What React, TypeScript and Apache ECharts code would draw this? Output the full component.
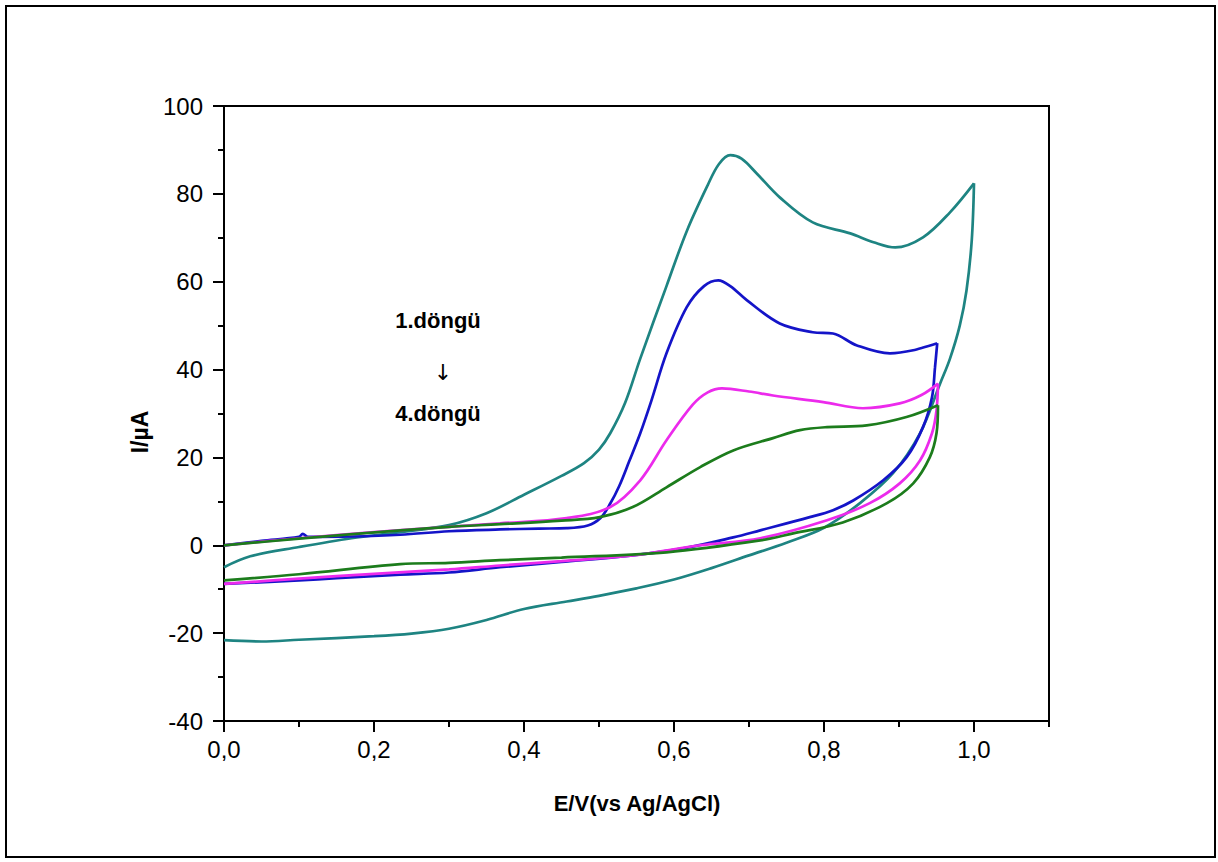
import React, { useEffect, useRef } from "react";
import * as echarts from "echarts";

// Potential (V) and current (µA)
const cycle1Forward: [number, number][] = [
  [0, -5.0], [0.035, -2.5], [0.1, -0.4], [0.17, 1.6], [0.235, 3.0], [0.3, 4.6],
  [0.35, 7.3], [0.4, 11.5], [0.45, 15.8], [0.48, 18.7], [0.5, 21.8], [0.515, 25.5],
  [0.535, 32.5], [0.555, 42.5], [0.59, 59], [0.617, 71.5], [0.645, 82], [0.66, 86.8],
  [0.675, 88.8], [0.69, 88], [0.71, 84.7], [0.741, 79.2], [0.785, 73.5], [0.835, 71.0],
  [0.866, 69.0], [0.895, 67.8], [0.932, 70.1], [0.968, 75.8], [1.0, 82.4],
];
const cycle1Reverse: [number, number][] = [
  [1.0, 82.4], [0.997, 69.4], [0.99, 58], [0.981, 50], [0.968, 42.5], [0.955, 36.9],
  [0.928, 25.5], [0.892, 16.4], [0.848, 9.6], [0.8, 4.0], [0.75, 0.6], [0.7, -2.3],
  [0.65, -5.2], [0.6, -7.8], [0.55, -9.8], [0.5, -11.5], [0.457, -12.8], [0.4, -14.5],
  [0.35, -17], [0.3, -19], [0.25, -20.1], [0.2, -20.7], [0.1, -21.5], [0.05, -21.9],
  [0.0, -21.6],
];
const cycle2Forward: [number, number][] = [
  [0, 0], [0.05, 1.0], [0.1, 1.9], [0.105, 2.6], [0.112, 1.9], [0.17, 2.0], [0.235, 2.4],
  [0.3, 3.2], [0.368, 3.6], [0.42, 3.8], [0.457, 3.9], [0.485, 4.5], [0.502, 6.2],
  [0.515, 9.5], [0.527, 13.5], [0.54, 19], [0.555, 25.5], [0.57, 33], [0.59, 43.7],
  [0.617, 54.2], [0.64, 59], [0.659, 60.3], [0.675, 59], [0.697, 55.8], [0.741, 50.5],
  [0.785, 48.5], [0.812, 48.2], [0.844, 45.5], [0.888, 43.7], [0.919, 44.4], [0.951, 46.0],
];
const cycle2Reverse: [number, number][] = [
  [0.951, 46.0], [0.948, 40.5], [0.944, 33.7], [0.932, 26.9], [0.91, 20], [0.879, 14.8],
  [0.839, 10.2], [0.812, 8.0], [0.781, 6.4], [0.715, 3.4], [0.679, 1.8], [0.612, -0.7],
  [0.545, -2.3], [0.45, -3.8], [0.368, -5.0], [0.3, -6.2], [0.235, -6.7], [0.15, -7.5],
  [0.1, -8.0], [0.0, -8.8],
];
const cycle3Forward: [number, number][] = [
  [0, 0], [0.1, 1.6], [0.2, 3.0], [0.3, 4.2], [0.368, 5.0], [0.457, 6.2], [0.515, 8.7],
  [0.555, 14.8], [0.59, 23.9], [0.625, 32.0], [0.645, 34.8], [0.664, 35.7], [0.7, 35.0],
  [0.732, 34.1], [0.799, 32.6], [0.852, 31.2], [0.901, 32.3], [0.93, 34.2], [0.952, 36.8],
];
const cycle3Reverse: [number, number][] = [
  [0.952, 36.8], [0.95, 30.7], [0.944, 25.5], [0.928, 19.3], [0.901, 14.1], [0.861, 9.6],
  [0.804, 5.7], [0.715, 1.6], [0.635, 0.0], [0.545, -2.3], [0.45, -3.6], [0.368, -4.6],
  [0.3, -5.5], [0.2, -6.5], [0.1, -7.6], [0.0, -8.8],
];
const cycle4Forward: [number, number][] = [
  [0, 0], [0.1, 1.5], [0.235, 3.4], [0.3, 4.2], [0.368, 4.8], [0.45, 5.6], [0.501, 6.4],
  [0.545, 8.7], [0.59, 13.2], [0.635, 17.8], [0.679, 21.6], [0.732, 24.4], [0.768, 26.2],
  [0.804, 26.9], [0.857, 27.3], [0.91, 29.2], [0.952, 31.9],
];
const cycle4Reverse: [number, number][] = [
  [0.952, 31.9], [0.95, 25.5], [0.941, 20], [0.919, 14.1], [0.884, 9.6], [0.825, 5.2],
  [0.759, 2.7], [0.715, 1.1], [0.59, -1.6], [0.45, -2.8], [0.368, -3.4], [0.3, -4.0],
  [0.235, -4.3], [0.1, -6.6], [0.0, -8.0],
];

const xMajorTicks = [0, 0.2, 0.4, 0.6, 0.8, 1.0];
const xMinorTicks = [0.1, 0.3, 0.5, 0.7, 0.9, 1.1];
const yTickValues = [-40, -20, 0, 20, 40, 60, 80, 100];

const cycleColors = ["#1e8482", "#1414c8", "#ec2aec", "#1c7c1c"];
const cycleNames = ["1.döngü", "2.döngü", "3.döngü", "4.döngü"];

export default function App() {
  const ref = useRef<HTMLDivElement>(null);

  useEffect(() => {
    if (!ref.current) return;
    const chart = echarts.init(ref.current, undefined, { renderer: "svg" });
    const font = "'Liberation Sans', Arial, sans-serif";
    const segments = [
      [cycle1Forward, cycle1Reverse],
      [cycle2Forward, cycle2Reverse],
      [cycle3Forward, cycle3Reverse],
      [cycle4Forward, cycle4Reverse],
    ];
    const series: any[] = [];
    segments.forEach((pair, i) => {
      pair.forEach((data) => {
        series.push({
          type: "line",
          name: cycleNames[i],
          xAxisIndex: 0,
          yAxisIndex: 0,
          data,
          smooth: 0.35,
          showSymbol: false,
          symbol: "none",
          lineStyle: { color: cycleColors[i], width: 2.7 },
          itemStyle: { color: cycleColors[i] },
          z: 2 + i,
        });
      });
    });

    chart.setOption({
      animation: false,
      backgroundColor: "#ffffff",
      grid: {
        left: 224,
        right: 169,
        top: 106,
        bottom: 141,
        show: true,
        borderColor: "#000",
        borderWidth: 2,
        backgroundColor: "transparent",
      },
      xAxis: [
        {
          type: "value",
          min: 0,
          max: 1.1,
          position: "bottom",
          axisLine: { show: true, onZero: false, lineStyle: { color: "#000", width: 2 } },
          axisTick: { show: true, length: 11, inside: false, customValues: xMajorTicks, lineStyle: { color: "#000", width: 2 } },
          axisLabel: {
            show: true,
            customValues: xMajorTicks,
            margin: 16,
            color: "#000",
            fontSize: 24,
            fontFamily: font,
            formatter: (v: number) => v.toFixed(1).replace(".", ","),
          },
          splitLine: { show: false },
        },
        {
          type: "value",
          min: 0,
          max: 1.1,
          position: "bottom",
          axisLine: { show: false, onZero: false },
          axisTick: { show: true, length: 6, inside: false, customValues: xMinorTicks, lineStyle: { color: "#000", width: 2 } },
          axisLabel: { show: false },
          splitLine: { show: false },
        },
      ],
      yAxis: {
        type: "value",
        min: -40,
        max: 100,
        interval: 20,
        axisLine: { show: true, onZero: false, lineStyle: { color: "#000", width: 2 } },
        axisTick: { show: true, length: 11, inside: false, lineStyle: { color: "#000", width: 2 } },
        minorTick: { show: true, splitNumber: 2, length: 6, lineStyle: { color: "#000", width: 2 } },
        axisLabel: {
          margin: 21,
          color: "#000",
          fontSize: 24,
          fontFamily: font,
          customValues: yTickValues,
        },
        splitLine: { show: false },
        minorSplitLine: { show: false },
      },
      graphic: [
        {
          type: "rect",
          shape: { x: 6, y: 6, width: 1209, height: 851 },
          style: { fill: "none", stroke: "#000", lineWidth: 2 },
          silent: true,
        },
        {
          type: "text",
          x: 637,
          y: 803,
          style: {
            text: "E/V(vs Ag/AgCl)",
            fontSize: 22,
            fontWeight: "bold",
            fontFamily: font,
            fill: "#000",
            align: "center",
            verticalAlign: "middle",
          },
        },
        {
          type: "text",
          x: 140,
          y: 432,
          rotation: Math.PI / 2,
          style: {
            text: "I/µA",
            fontSize: 23,
            fontWeight: "bold",
            fontFamily: font,
            fill: "#000",
            align: "center",
            verticalAlign: "middle",
          },
        },
        {
          type: "text",
          x: 438,
          y: 320,
          style: {
            text: cycleNames[0],
            fontSize: 22,
            fontWeight: "bold",
            fontFamily: font,
            fill: "#000",
            align: "center",
            verticalAlign: "middle",
          },
        },
        {
          type: "text",
          x: 443,
          y: 372,
          style: {
            text: "↓",
            fontSize: 22,
            fontFamily: "'DejaVu Sans', 'Liberation Sans', sans-serif",
            fill: "#000",
            align: "center",
            verticalAlign: "middle",
          },
        },
        {
          type: "text",
          x: 438,
          y: 413,
          style: {
            text: cycleNames[3],
            fontSize: 22,
            fontWeight: "bold",
            fontFamily: font,
            fill: "#000",
            align: "center",
            verticalAlign: "middle",
          },
        },
      ],
      series,
    });

    return () => chart.dispose();
  }, []);

  return (
    <div
      ref={ref}
      style={{ position: "fixed", left: 0, top: 0, width: 1218, height: 862, background: "#fff" }}
    />
  );
}
